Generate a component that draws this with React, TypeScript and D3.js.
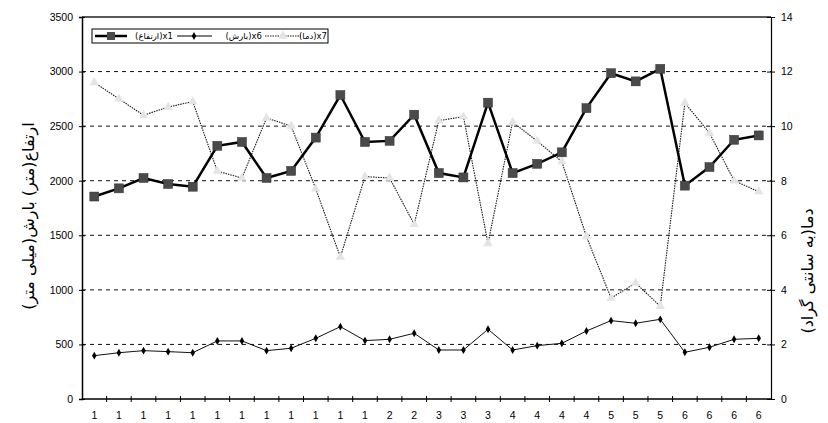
import React, { useEffect, useRef } from "react";
import * as d3 from "d3";

// x labels (one per station)
const categories = [
  "1", "1", "1", "1", "1", "1", "1", "1", "1", "1", "1", "1",
  "2", "2", "3", "3", "3", "4", "4", "4", "4", "5", "5", "5",
  "6", "6", "6", "6",
];

// ارتفاع (m) - left axis
const elevation = [
  1855, 1930, 2025, 1970, 1945, 2320, 2355, 2025, 2090, 2395, 2785, 2355,
  2365, 2605, 2070, 2030, 2715, 2070, 2155, 2260, 2665, 2985, 2910, 3025,
  1955, 2125, 2375, 2415,
];

// بارش (mm) - left axis
const precipitation = [
  397, 424, 443, 434, 424, 532, 532, 443, 465, 556, 663, 535, 547, 602, 449,
  449, 639, 449, 489, 510, 623, 718, 694, 730, 428, 474, 547, 556,
];

// دما (°C) - right axis
const temperature = [
  11.6, 11.0, 10.4, 10.7, 10.9, 8.35, 8.1, 10.3, 10.0, 7.7, 5.2, 8.15, 8.1,
  6.4, 10.2, 10.35, 5.7, 10.15, 9.45, 8.7, 5.95, 3.7, 4.25, 3.4, 10.85, 9.75,
  8.0, 7.6,
];

const leftTicks = [0, 500, 1000, 1500, 2000, 2500, 3000, 3500];
const rightTicks = [0, 2, 4, 6, 8, 10, 12, 14];

const legendItems = ["(ارتفاع)x1", "(بارش)x6", "(دما)x7"];

const width = 828;
const height = 423;

const App: React.FC = () => {
  const svgRef = useRef<SVGSVGElement>(null);

  useEffect(() => {
    document.body.style.margin = "0";
    if (!svgRef.current) return;
    const svg = d3.select(svgRef.current);
    svg.selectAll("*").remove();

    const left = 82;
    const right = 771;
    const top = 17;
    const bottom = 399;
    const numFont = "'Liberation Sans', Arial, sans-serif";
    const faFont = "'DejaVu Sans', sans-serif";

    const x = d3
      .scaleBand<number>()
      .domain(d3.range(categories.length))
      .range([left, right]);
    const cx = (i: number) => (x(i) as number) + x.bandwidth() / 2;

    const yL = d3.scaleLinear().domain([0, 3500]).range([bottom, top]);
    const yR = d3.scaleLinear().domain([0, 14]).range([bottom, top]);

    // dashed gridlines
    svg
      .append("g")
      .selectAll("line")
      .data(leftTicks.filter((d) => d > 0 && d < 3500))
      .enter()
      .append("line")
      .attr("x1", left)
      .attr("x2", right)
      .attr("y1", (d) => yL(d))
      .attr("y2", (d) => yL(d))
      .attr("stroke", "#111")
      .attr("stroke-width", 1)
      .attr("stroke-dasharray", "4,4");

    // top border
    svg
      .append("line")
      .attr("x1", left)
      .attr("x2", right)
      .attr("y1", top)
      .attr("y2", top)
      .attr("stroke", "#222")
      .attr("stroke-width", 1.5);

    // left axis
    const gL = svg
      .append("g")
      .attr("transform", `translate(${left},0)`)
      .call(
        d3
          .axisLeft(yL)
          .tickValues(leftTicks)
          .tickFormat(d3.format("d"))
          .tickSize(3)
          .tickPadding(6)
      );
    gL.selectAll(".tick line").attr("x2", 3).attr("x1", -3);
    gL.select(".domain").attr("stroke-width", 1.5);

    // right axis
    const gR = svg
      .append("g")
      .attr("transform", `translate(${right},0)`)
      .call(d3.axisRight(yR).tickValues(rightTicks).tickSize(4).tickPadding(6));
    gR.selectAll(".tick line").attr("x1", -4);
    gR.select(".domain").attr("stroke-width", 1.2);

    // bottom axis, ticks between categories
    svg
      .append("line")
      .attr("x1", left)
      .attr("x2", right)
      .attr("y1", bottom)
      .attr("y2", bottom)
      .attr("stroke", "#000")
      .attr("stroke-width", 1.5);
    svg
      .append("g")
      .selectAll("line")
      .data(d3.range(1, categories.length))
      .enter()
      .append("line")
      .attr("x1", (i) => x(i) as number)
      .attr("x2", (i) => x(i) as number)
      .attr("y1", bottom - 3)
      .attr("y2", bottom + 3)
      .attr("stroke", "#000");
    svg
      .append("g")
      .selectAll("text")
      .data(categories)
      .enter()
      .append("text")
      .attr("x", (d, i) => cx(i))
      .attr("y", 419)
      .attr("text-anchor", "middle")
      .style("font-family", numFont)
      .style("font-size", "10.5px")
      .text((d) => d);

    [gL, gR].forEach((g) => {
      g.selectAll("text")
        .style("font-family", numFont)
        .style("font-size", "10.5px")
        .attr("fill", "#000");
      g.selectAll("line, path").attr("stroke", "#000");
    });

    // temperature line (dotted) + triangles
    const tempLine = d3
      .line<number>()
      .x((d, i) => cx(i))
      .y((d) => yR(d));
    svg
      .append("path")
      .datum(temperature)
      .attr("d", tempLine)
      .attr("fill", "none")
      .attr("stroke", "#1a1a1a")
      .attr("stroke-width", 1.1)
      .attr("stroke-dasharray", "1.5,1");

    // elevation line + squares
    const elevLine = d3
      .line<number>()
      .x((d, i) => cx(i))
      .y((d) => yL(d));
    svg
      .append("path")
      .datum(elevation)
      .attr("d", elevLine)
      .attr("fill", "none")
      .attr("stroke", "#000")
      .attr("stroke-width", 2.5);

    const triangle = d3.symbol().type(d3.symbolTriangle).size(38);
    svg
      .append("g")
      .selectAll("path")
      .data(temperature)
      .enter()
      .append("path")
      .attr("d", triangle)
      .attr("transform", (d, i) => `translate(${cx(i)},${yR(d)})`)
      .attr("fill", "#e4e4e4");

    svg
      .append("g")
      .selectAll("rect")
      .data(elevation)
      .enter()
      .append("rect")
      .attr("x", (d, i) => cx(i) - 4.5)
      .attr("y", (d) => yL(d) - 4.5)
      .attr("width", 9)
      .attr("height", 9)
      .attr("fill", "#4a4a4a")
      .attr("stroke", "#333")
      .attr("stroke-width", 0.5);

    // precipitation line + diamonds
    svg
      .append("path")
      .datum(precipitation)
      .attr("d", elevLine)
      .attr("fill", "none")
      .attr("stroke", "#111")
      .attr("stroke-width", 1);
    const diamond = d3.symbol().type(d3.symbolDiamond).size(18);
    svg
      .append("g")
      .selectAll("path")
      .data(precipitation)
      .enter()
      .append("path")
      .attr("d", diamond)
      .attr("transform", (d, i) => `translate(${cx(i)},${yL(d)})`)
      .attr("fill", "#000");

    // legend
    const lg = svg.append("g");
    lg.append("rect")
      .attr("x", 92)
      .attr("y", 29)
      .attr("width", 236)
      .attr("height", 14)
      .attr("fill", "#fff")
      .attr("stroke", "#000")
      .attr("stroke-width", 1);
    const ly = 36;
    lg.append("line")
      .attr("x1", 95).attr("x2", 127).attr("y1", ly).attr("y2", ly)
      .attr("stroke", "#000").attr("stroke-width", 2.5);
    lg.append("rect")
      .attr("x", 107).attr("y", ly - 4).attr("width", 8).attr("height", 8)
      .attr("fill", "#4a4a4a");
    lg.append("line")
      .attr("x1", 177).attr("x2", 212).attr("y1", ly).attr("y2", ly)
      .attr("stroke", "#000").attr("stroke-width", 1);
    lg.append("path")
      .attr("d", diamond)
      .attr("transform", `translate(194,${ly})`)
      .attr("fill", "#000");
    lg.append("line")
      .attr("x1", 265).attr("x2", 301).attr("y1", ly).attr("y2", ly)
      .attr("stroke", "#1a1a1a").attr("stroke-width", 1.1)
      .attr("stroke-dasharray", "1.5,1");
    lg.append("path")
      .attr("d", triangle)
      .attr("transform", `translate(283,${ly})`)
      .attr("fill", "#e4e4e4");
    const textEnds = [173, 262, 327];
    lg.selectAll("text.leg")
      .data(legendItems)
      .enter()
      .append("text")
      .attr("class", "leg")
      .attr("x", (d, i) => textEnds[i])
      .attr("y", ly + 3)
      .attr("text-anchor", "end")
      .style("font-family", faFont)
      .style("font-size", "8.5px")
      .text((d) => d);

    // axis titles
    svg
      .append("text")
      .attr("transform", "translate(34,216) rotate(-90)")
      .attr("text-anchor", "middle")
      .style("font-family", faFont)
      .style("font-size", "16px")
      .text("ارتفاع(متر) بارش(میلی متر)");
    svg
      .append("text")
      .attr("transform", "translate(813,271) rotate(-90)")
      .attr("text-anchor", "middle")
      .style("font-family", faFont)
      .style("font-size", "16px")
      .text("دما(به سانتی گراد)");
  }, []);

  return (
    <svg
      ref={svgRef}
      width={width}
      height={height}
      viewBox={`0 0 ${width} ${height}`}
      style={{ display: "block", background: "#fff" }}
    />
  );
};

export default App;
